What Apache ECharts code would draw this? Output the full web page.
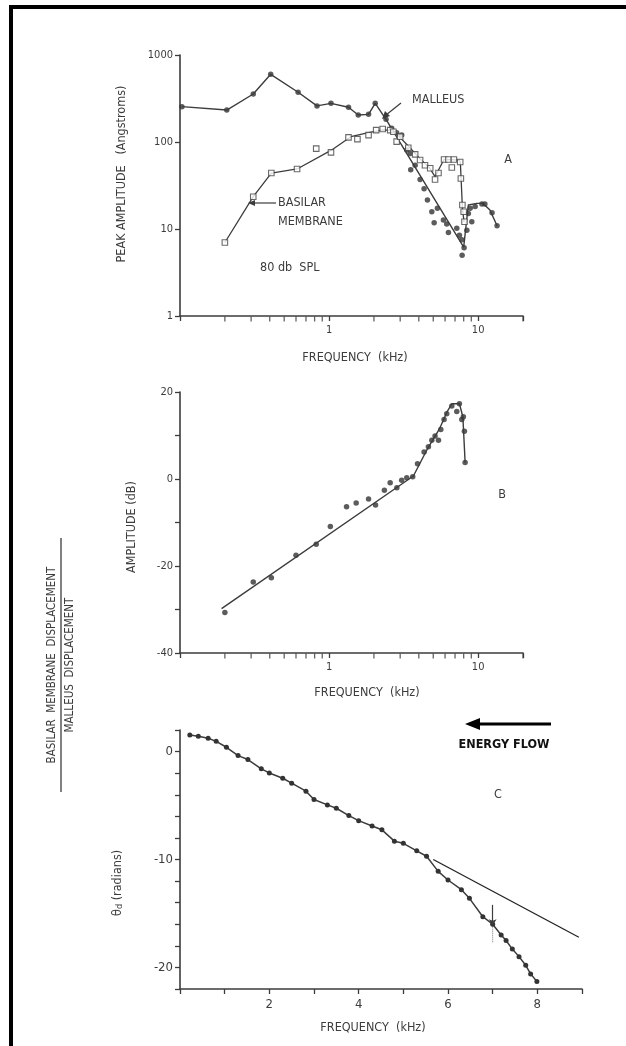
<!DOCTYPE html>
<html style="height: 100%">
<head>
    <meta charset="utf-8">
</head>
<body style="height: 100%; margin: 0; background: #fff">
<div id="container" style="width: 626px; height: 1046px"></div>
<script type="text/javascript" src="https://cdn.jsdelivr.net/npm/echarts@6/dist/echarts.min.js"></script>
<script type="text/javascript">
    // panel A : peak amplitude (Angstroms) vs frequency (kHz), log-log
    var malleusPts = [[0.103,255],[0.206,233],[0.31,356],[0.406,600],[0.62,373],[0.83,260],[1.03,278],[1.35,251],
        [1.57,204],[1.84,208],[2.04,278],[2.41,182],[2.63,144],[2.84,128],[3.07,120],[3.32,81],[3.5,74],[3.53,48],
        [3.78,54],[4.08,37],[4.34,29],[4.57,21.5],[4.89,15.8],[5.07,11.8],[5.33,17.3],[5.85,12.7],[6.16,11.4],
        [6.32,9.1],[7.19,10.2],[7.49,8.5],[7.77,7.5],[8.05,6.1],[7.81,5.0],[8.4,9.7],[8.6,15.1],[9.07,12.1],
        [8.84,17.3],[9.55,18.1],[10.6,19.4],[11.1,19.4],[12.4,15.4],[13.4,10.9]];
    var malleusLine = [[0.103,255],[0.206,233],[0.31,356],[0.406,600],[0.62,373],[0.83,260],[1.03,278],[1.35,251],
        [1.57,204],[1.84,208],[2.04,278],[2.41,182],[8.0,6.2],[8.6,18.9],[9.8,19.7],[10.8,19.7],[12.0,16.5],[13.4,10.9]];
    var basilarPts = [[0.2,7],[0.31,23.5],[0.41,44],[0.61,49],[0.82,84],[1.03,76],[1.35,113],[1.55,108],[1.84,120],
        [2.07,137],[2.29,141],[2.57,137],[2.7,131],[2.84,101],[3.0,115],[3.4,86],[3.78,72],[4.08,62],[4.4,54],
        [4.77,50],[5.14,37],[5.42,44],[5.91,63],[6.32,63],[6.66,51],[6.88,63],[7.58,59],[7.66,38],[7.84,18.9],
        [8.0,15.8],[8.1,12.1]];
    var basilarLine = [[0.2,7],[0.31,23.5],[0.41,44],[0.61,49],[1.03,80],[1.4,115],[1.84,128],[2.3,138],[2.7,135],
        [3.4,90],[4.08,64],[4.7,51],[5.14,40],[5.5,50],[5.9,63],[7.5,62],[7.6,58],[7.85,17],[8.05,12]];

    // panel B : amplitude ratio (dB)
    var ratioPts = [[0.2,-30.7],[0.31,-23.7],[0.41,-22.7],[0.6,-17.5],[0.82,-15.0],[1.02,-10.9],[1.31,-6.4],
        [1.52,-5.5],[1.84,-4.6],[2.05,-6.0],[2.35,-2.6],[2.57,-0.85],[2.85,-2.0],[3.07,-0.3],[3.32,0.3],[3.64,0.5],
        [3.92,3.5],[4.34,6.2],[4.64,7.4],[4.89,8.9],[5.14,9.9],[5.42,8.9],[5.62,11.4],[5.91,13.7],[6.16,15.0],
        [6.66,16.8],[7.19,15.5],[7.49,17.3],[7.77,13.7],[7.96,14.3],[8.09,11.0],[8.18,3.8]];
    var ratioLine = [[0.19,-29.8],[3.68,0.7],[4.5,6.5],[5.5,11.5],[6.2,15.5],[6.66,17.3],[7.49,17.3],[7.9,14.3],[8.18,3.8]];
    var ratioArrow = [[7.3,22],[7.3,17.6]];

    // panel C : phase (radians) vs linear frequency
    var phasePts = [[0.22,1.54],[0.41,1.42],[0.63,1.23],[0.81,0.95],[1.04,0.4],[1.3,-0.37],[1.52,-0.74],[1.82,-1.6],
        [2.0,-1.98],[2.3,-2.47],[2.5,-2.93],[2.82,-3.67],[3.0,-4.44],[3.3,-4.94],[3.5,-5.25],[3.78,-5.93],[4.0,-6.4],
        [4.3,-6.9],[4.52,-7.25],[4.8,-8.3],[5.0,-8.5],[5.3,-9.2],[5.52,-9.7],[5.78,-11.1],[6.0,-11.9],[6.3,-12.8],
        [6.48,-13.6],[6.78,-15.3],[7.0,-16.0],[7.19,-17.0],[7.3,-17.5],[7.44,-18.3],[7.59,-19.0],[7.74,-19.8],
        [7.85,-20.6],[7.99,-21.3]];
    var phaseTangent = [[5.67,-10],[8.93,-17.2]];
    var phaseArrow = [[7.0,-14.2],[7.0,-16.1]];
    var phaseDots = [[7.0,-16.1],[7.0,-17.7]];

    // log axis minor ticks (kHz)
    var logTicks = [0.2,0.3,0.4,0.5,0.6,0.7,0.8,0.9,2,3,4,5,6,7,8,9,20];

    var ink = '#3c3c3c';
    var font = "'DejaVu Sans Condensed', 'DejaVu Sans', sans-serif";

    var dom = document.getElementById("container");
    var myChart = echarts.init(dom, null, {renderer: 'canvas'});

    function logX(idx) {
        return {
            type: 'log', logBase: 10, min: 0.1, max: 20, gridIndex: idx,
            axisLine: {onZero: false, lineStyle: {color: ink, width: 1.6}},
            axisTick: {length: 5, lineStyle: {color: ink, width: 1.3}},
            axisLabel: {color: ink, fontSize: 11, fontFamily: font, margin: 9,
                formatter: function (v) { return (v === 1 || v === 10) ? String(v) : ''; }},
            splitLine: {show: false}
        };
    }
    function minorTicks(idx, y0) {
        return {
            type: 'scatter', xAxisIndex: idx, yAxisIndex: idx, silent: true, clip: false,
            symbol: 'rect', symbolSize: [1.3, 5], symbolOffset: [0, 3],
            itemStyle: {color: ink},
            data: logTicks.map(function (t) { return [t, y0]; }),
            z: 1
        };
    }
    function txt(x, y, s, size, opt) {
        opt = opt || {};
        return {
            type: 'text', x: x, y: y, rotation: opt.rot || 0,
            style: {text: s, fill: opt.color || ink, fontSize: size, fontFamily: font,
                fontWeight: opt.bold ? 'bold' : 'normal',
                align: opt.align || 'center', verticalAlign: 'middle'}
        };
    }

    option = {
        backgroundColor: '#ffffff',
        animation: false,
        grid: [
            {left: 180, top: 55, width: 343, height: 261},
            {left: 180, top: 392, width: 343, height: 261},
            {left: 180, top: 730, width: 402, height: 259}
        ],
        xAxis: [
            logX(0),
            logX(1),
            {
                type: 'value', min: 0, max: 9, interval: 1, gridIndex: 2,
                axisLine: {onZero: false, lineStyle: {color: ink, width: 1.6}},
                axisTick: {length: 5, lineStyle: {color: ink, width: 1.3}},
                axisLabel: {color: ink, fontSize: 13, fontFamily: font, margin: 9,
                    formatter: function (v) { return (v > 0 && v % 2 === 0) ? String(v) : ''; }},
                splitLine: {show: false}
            }
        ],
        yAxis: [
            {
                type: 'log', logBase: 10, min: 1, max: 1000, gridIndex: 0,
                axisLine: {show: true, onZero: false, lineStyle: {color: ink, width: 1.6}},
                axisTick: {show: true, length: 5, lineStyle: {color: ink, width: 1.3}},
                axisLabel: {color: ink, fontSize: 11, fontFamily: font, margin: 7,
                    formatter: function (v) { return String(Math.round(v)); }},
                splitLine: {show: false}
            },
            {
                type: 'value', min: -40, max: 20, interval: 10, gridIndex: 1,
                axisLine: {show: true, onZero: false, lineStyle: {color: ink, width: 1.6}},
                axisTick: {show: true, length: 5, lineStyle: {color: ink, width: 1.3}},
                axisLabel: {color: ink, fontSize: 11, fontFamily: font, margin: 7,
                    formatter: function (v) { return v % 20 === 0 ? String(v) : ''; }},
                splitLine: {show: false}
            },
            {
                type: 'value', min: -22, max: 2, interval: 2, gridIndex: 2,
                axisLine: {show: true, onZero: false, lineStyle: {color: ink, width: 1.6}},
                axisTick: {show: true, length: 5, lineStyle: {color: ink, width: 1.3}},
                axisLabel: {color: ink, fontSize: 13, fontFamily: font, margin: 7,
                    formatter: function (v) { return v % 10 === 0 ? String(v) : ''; }},
                splitLine: {show: false}
            }
        ],
        series: [
            minorTicks(0, 1),
            minorTicks(1, -40),
            {
                type: 'line', xAxisIndex: 0, yAxisIndex: 0, data: malleusLine, showSymbol: false,
                lineStyle: {color: ink, width: 1.4}, silent: true
            },
            {
                type: 'scatter', xAxisIndex: 0, yAxisIndex: 0, data: malleusPts,
                symbol: 'circle', symbolSize: 5.5, itemStyle: {color: '#333'}
            },
            {
                type: 'line', xAxisIndex: 0, yAxisIndex: 0, data: basilarLine, showSymbol: false,
                lineStyle: {color: ink, width: 1.3}, silent: true
            },
            {
                type: 'scatter', xAxisIndex: 0, yAxisIndex: 0, data: basilarPts,
                symbol: 'rect', symbolSize: 5.5,
                itemStyle: {color: '#ffffff', borderColor: '#444', borderWidth: 1.1}, z: 3
            },
            {
                type: 'line', xAxisIndex: 1, yAxisIndex: 1, data: ratioLine, showSymbol: false,
                lineStyle: {color: ink, width: 1.4}, silent: true,
                markLine: {
                    silent: true, symbol: ['none', 'arrow'], symbolSize: 6, label: {show: false},
                    lineStyle: {color: ink, width: 1.2, type: 'solid'},
                    data: [[{coord: ratioArrow[0]}, {coord: ratioArrow[1]}]]
                }
            },
            {
                type: 'scatter', xAxisIndex: 1, yAxisIndex: 1, data: ratioPts,
                symbol: 'circle', symbolSize: 5.5, itemStyle: {color: '#333'}
            },
            {
                type: 'line', xAxisIndex: 2, yAxisIndex: 2, data: phasePts,
                symbol: 'circle', symbolSize: 5, showSymbol: true,
                itemStyle: {color: '#333'}, lineStyle: {color: ink, width: 1.5},
                markLine: {
                    silent: true, symbol: ['none', 'arrow'], symbolSize: 6, label: {show: false},
                    lineStyle: {color: ink, width: 1.2, type: 'solid'},
                    data: [[{coord: phaseArrow[0]}, {coord: phaseArrow[1]}]]
                }
            },
            {
                type: 'line', xAxisIndex: 2, yAxisIndex: 2, data: phaseDots, showSymbol: false,
                lineStyle: {color: '#777', width: 1, type: 'dotted'}, silent: true
            },
            {
                type: 'line', xAxisIndex: 2, yAxisIndex: 2, data: phaseTangent, showSymbol: false,
                lineStyle: {color: '#222', width: 1.3}, silent: true
            }
        ],
        graphic: [
            // frame (top and left edges)
            {type: 'line', shape: {x1: 11, y1: 7, x2: 626, y2: 7}, style: {stroke: '#000', lineWidth: 4}},
            {type: 'line', shape: {x1: 11, y1: 5, x2: 11, y2: 1046}, style: {stroke: '#000', lineWidth: 4}},

            // panel A
            txt(122, 174, 'PEAK AMPLITUDE   (Angstroms)', 12.5, {rot: Math.PI / 2}),
            txt(355, 358, 'FREQUENCY  (kHz)', 12.5),
            txt(412, 100, 'MALLEUS', 12.5, {align: 'left'}),
            {type: 'line', shape: {x1: 401, y1: 103, x2: 386, y2: 115}, style: {stroke: ink, lineWidth: 1.2}},
            {type: 'polygon', shape: {points: [[382, 119], [385, 111], [390, 116]]}, style: {fill: ink}},
            txt(278, 203, 'BASILAR', 12.5, {align: 'left'}),
            txt(278, 222, 'MEMBRANE', 12.5, {align: 'left'}),
            {type: 'line', shape: {x1: 276, y1: 203, x2: 253, y2: 203}, style: {stroke: ink, lineWidth: 1.2}},
            {type: 'polygon', shape: {points: [[248, 203], [255, 200], [255, 206]]}, style: {fill: ink}},
            txt(260, 268, '80 db  SPL', 12.5, {align: 'left'}),
            txt(508, 160, 'A', 12.5),

            // panel B
            txt(132, 527, 'AMPLITUDE (dB)', 12.5, {rot: Math.PI / 2}),
            txt(367, 693, 'FREQUENCY  (kHz)', 12.5),
            txt(502, 495, 'B', 12.5),

            // shared left label
            txt(52, 665, 'BASILAR  MEMBRANE  DISPLACEMENT', 11.5, {rot: Math.PI / 2}),
            {type: 'line', shape: {x1: 61, y1: 538, x2: 61, y2: 792}, style: {stroke: ink, lineWidth: 1.3}},
            txt(70, 665, 'MALLEUS  DISPLACEMENT', 11.5, {rot: Math.PI / 2}),

            // panel C
            {
                type: 'text', x: 118, y: 883, rotation: Math.PI / 2,
                style: {
                    text: '{a|θ}{b|d} (radians)', fill: ink, fontSize: 12.5, fontFamily: font,
                    align: 'center', verticalAlign: 'middle',
                    rich: {
                        a: {fontSize: 13, fontFamily: font, fill: ink},
                        b: {fontSize: 9, fontFamily: font, fill: ink, verticalAlign: 'bottom', padding: [4, 0, 0, 0]}
                    }
                }
            },
            txt(373, 1028, 'FREQUENCY  (kHz)', 12.5),
            txt(498, 795, 'C', 12.5),
            {type: 'line', shape: {x1: 476, y1: 724, x2: 551, y2: 724}, style: {stroke: '#000', lineWidth: 3}},
            {type: 'polygon', shape: {points: [[465, 724], [480, 718], [480, 730]]}, style: {fill: '#000'}},
            txt(504, 745, 'ENERGY FLOW', 12.5, {bold: true, color: '#111'})
        ]
    };

    if (option && typeof option === "object") {
        myChart.setOption(option, true);
    }
</script>
</body>
</html>
